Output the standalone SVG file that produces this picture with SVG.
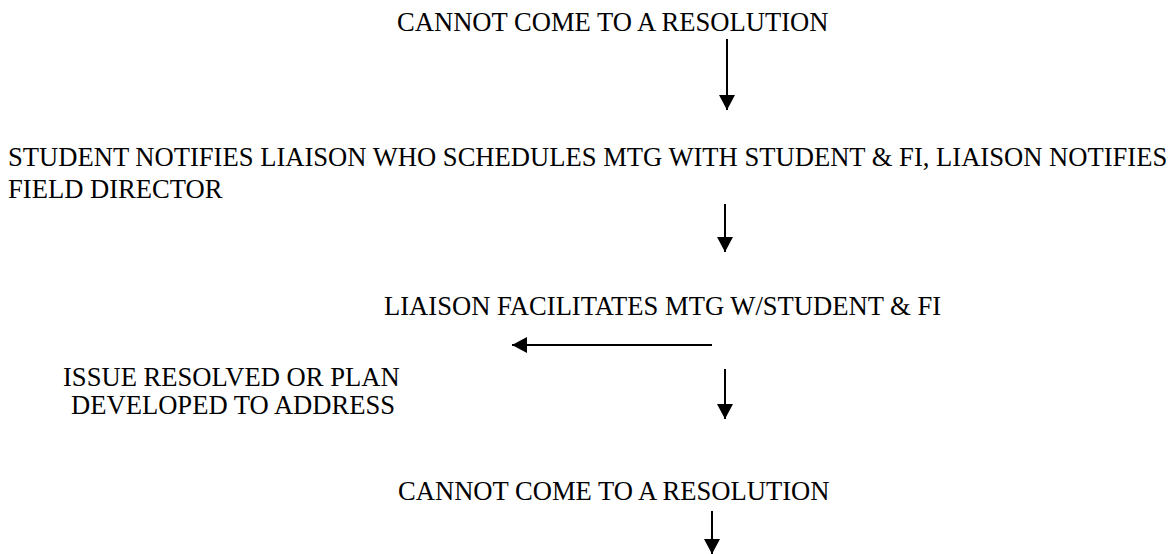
<svg xmlns="http://www.w3.org/2000/svg" width="1171" height="554" viewBox="0 0 1171 554">
<defs>
<style>
text{font-family:"Liberation Serif","Times New Roman",Times,serif;font-size:26.6px;fill:#000}
.c{stroke:#000;stroke-width:2;fill:none}
</style>
<marker id="ah" markerUnits="userSpaceOnUse" markerWidth="16" markerHeight="16" viewBox="0 0 16 16" refX="15" refY="8" orient="auto">
<path d="M0,0 L15,8 L0,16 Z" fill="#000"/>
</marker>
</defs>
<rect width="1171" height="554" fill="#fff"/>
<g id="n1"><text x="397" y="31">CANNOT COME TO A RESOLUTION</text></g>
<g id="n2"><text x="8" y="166">STUDENT NOTIFIES LIAISON WHO SCHEDULES MTG WITH STUDENT &amp; FI, LIAISON NOTIFIES</text><text x="8" y="198">FIELD DIRECTOR</text></g>
<g id="n3"><text x="384" y="315">LIAISON FACILITATES MTG W/STUDENT &amp; FI</text></g>
<g id="n4"><text x="63" y="386">ISSUE RESOLVED OR PLAN</text><text x="71" y="414">DEVELOPED TO ADDRESS</text></g>
<g id="n5"><text x="398" y="500">CANNOT COME TO A RESOLUTION</text></g>
<g id="connectors">
<line class="c" x1="727" y1="39" x2="727" y2="110" marker-end="url(#ah)"/>
<line class="c" x1="725" y1="204" x2="725" y2="252" marker-end="url(#ah)"/>
<line class="c" x1="712" y1="345" x2="512" y2="345" marker-end="url(#ah)"/>
<line class="c" x1="725" y1="369" x2="725" y2="419" marker-end="url(#ah)"/>
<line class="c" x1="712" y1="511" x2="712" y2="554" marker-end="url(#ah)"/>
</g>
</svg>
